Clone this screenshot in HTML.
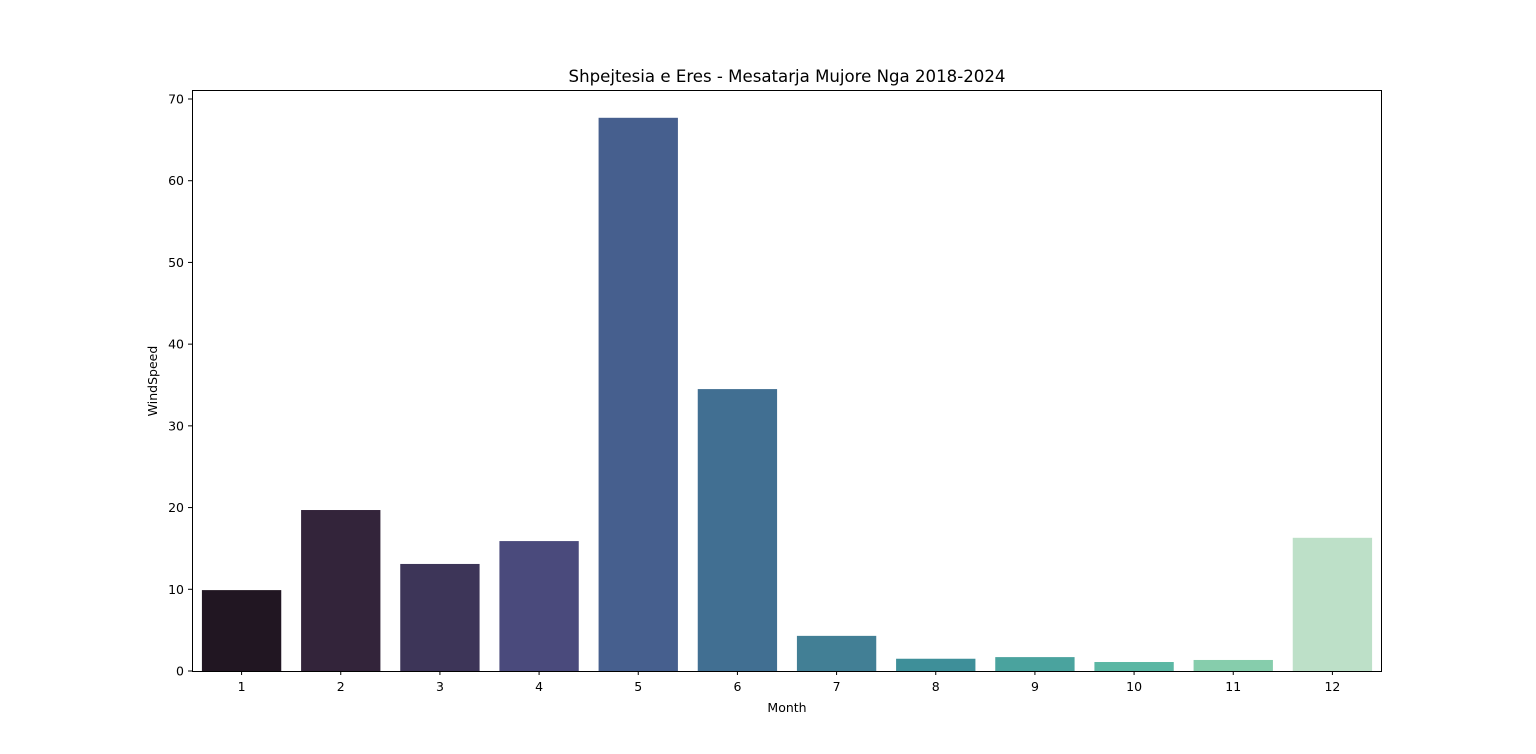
<!DOCTYPE html>
<html><head><meta charset="utf-8">
<style>body{margin:0;background:#fff}svg{display:block;font-family:"DejaVu Sans","Liberation Sans",sans-serif}</style>
</head><body>
<svg id="chart" width="1536" height="754" xmlns="http://www.w3.org/2000/svg"></svg>
<script>
const categories = ["1","2","3","4","5","6","7","8","9","10","11","12"];
const windSpeed = [9.9,19.7,13.1,15.9,67.7,34.5,4.3,1.5,1.7,1.1,1.35,16.3];
const barColors = ["#211622","#33243a","#3d3558","#4a4a7c","#465f8e","#416f92","#427f95","#3e8f99","#4aa39e","#5bb7a4","#86cdac","#bde0c8"];
const yTicks = [0,10,20,30,40,50,60,70];

const svg = document.getElementById('chart');
const NS = 'http://www.w3.org/2000/svg';
const L=192,R=1382,T=90,B=671,yMax=70,y70=99;
const band=(R-L)/categories.length;
const xScale=i=>L+band*i+band/2;
const yScale=v=>B-(B-y70)*v/yMax;
function mk(tag,attrs,text){const e=document.createElementNS(NS,tag);for(const k in attrs)e.setAttribute(k,attrs[k]);if(text!==undefined)e.textContent=text;svg.appendChild(e);return e;}

categories.forEach((c,i)=>{
  const w=band*0.8, y=yScale(windSpeed[i]);
  const r=mk('rect',{x:xScale(i)-w/2,y:y,width:w,height:B-y,fill:barColors[i]});
  
  
  mk('line',{x1:xScale(i),x2:xScale(i),y1:B,y2:B+4,stroke:'#000','stroke-width':1});
  const t=mk('text',{x:xScale(i),y:B+20,'text-anchor':'middle','font-size':12.5},c);
  
  
});
yTicks.forEach(v=>{
  const y=yScale(v);
  mk('line',{x1:L-4,x2:L,y1:y,y2:y,stroke:'#000','stroke-width':1});
  const t=mk('text',{x:L-8,y:y+4.5,'text-anchor':'end','font-size':12.5},String(v));
  
  
});
const frame=mk('rect',{x:L+0.5,y:T+0.5,width:R-L-1,height:B-T,fill:'none',stroke:'#000','stroke-width':1});


const title=mk('text',{x:(L+R)/2,y:82,'text-anchor':'middle','font-size':16.6},'Shpejtesia e Eres - Mesatarja Mujore Nga 2018-2024');


const xl=mk('text',{x:(L+R)/2,y:712,'text-anchor':'middle','font-size':12.5},'Month');


const yl=mk('text',{x:157,y:381,'text-anchor':'middle','font-size':12.5,transform:'rotate(-90 157 381)'},'WindSpeed');


</script>
</body></html>
